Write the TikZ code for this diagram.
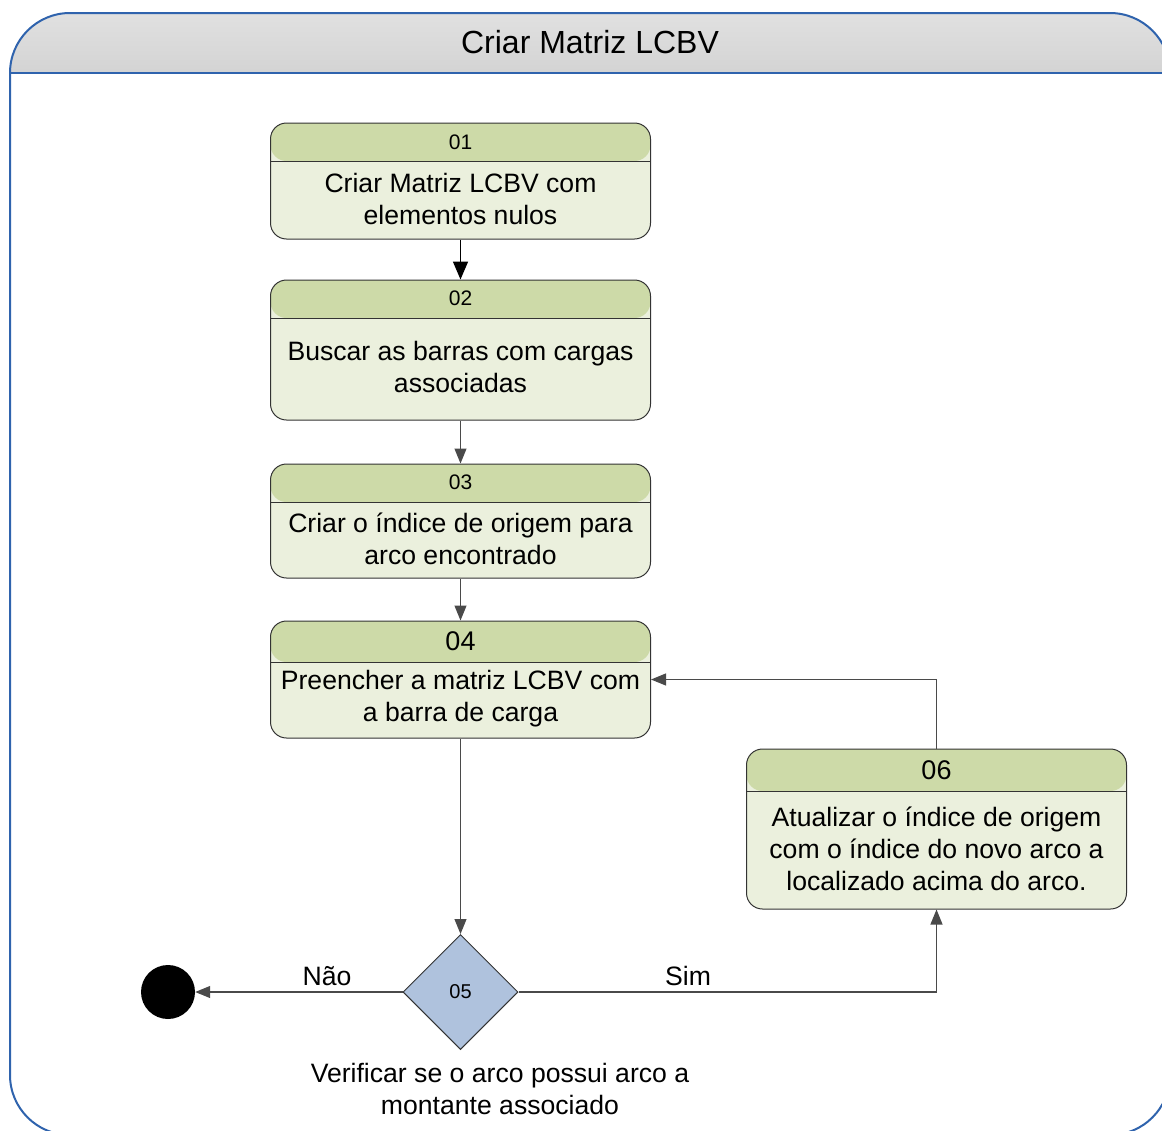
\documentclass[tikz,border=0pt]{standalone}
\usepackage{fontspec}
\setmainfont{Liberation Sans}
\usetikzlibrary{arrows.meta,shapes.geometric}

\definecolor{frameblue}{HTML}{2F63AD}
\definecolor{headgreen}{HTML}{CDDAA8}
\definecolor{bodygreen}{HTML}{EBF0DD}
\definecolor{boxedge}{HTML}{333333}
\definecolor{decfill}{HTML}{AFC2DD}
\definecolor{wire}{HTML}{4A4A4A}

\tikzset{
  framestroke/.style={draw=frameblue, line width=2pt},
  % activity box: #1 = total height, #2 = height of the numbered header band
  stepbox/.style 2 args={rectangle, rounded corners=16pt, draw=boxedge, line width=1pt,
    fill=bodygreen, minimum width=380pt, minimum height=#1, inner sep=0pt,
    path picture={
      \fill[headgreen] (path picture bounding box.north west) rectangle
        ([yshift=-#2]path picture bounding box.north east);
      \draw[boxedge, line width=1pt] ([yshift=-#2]path picture bounding box.north west) --
        ([yshift=-#2]path picture bounding box.north east);
    }},
  bodytext/.style={align=center, inner sep=0pt, font=\fontsize{26.6}{32}\selectfont},
  smallnum/.style={inner sep=0pt, font=\fontsize{21}{24}\selectfont},
  bignum/.style={inner sep=0pt, font=\fontsize{27}{30}\selectfont},
  conn/.style={draw=wire, line width=1.1pt, -{Triangle[length=15pt,width=12pt]}},
  strongconn/.style={draw=black, line width=1.6pt, -{Triangle[length=18pt,width=15pt]}},
}

\begin{document}
\begin{tikzpicture}[x=1pt, y=-1pt]
\useasboundingbox (0,0) rectangle (1162,1130);
\begin{scope}
\clip (0,0) rectangle (1162,1130);
% outer swimlane frame with shaded title band
\fill[top color=white!88!black, bottom color=white!83!black]
  (10,73) [rounded corners=60pt] -- (10,13) -- (1170,13) [sharp corners] -- (1170,73) -- cycle;
\draw[framestroke, rounded corners=60pt] (10,13) rectangle (1170,1135);
\draw[framestroke] (10,73) -- (1170,73);
\end{scope}
\node[inner sep=0pt, font=\fontsize{32}{36}\selectfont] (title) at (590,42) {Criar Matriz LCBV};

% activity boxes
\node[stepbox={116pt}{38pt}] (b1) at (460.5,181) {};
\node[smallnum] (b1n) at (460.5,142) {01};
\node[bodytext] (b1t) at (460.5,199) {Criar Matriz LCBV com\\elementos nulos};

\node[stepbox={140pt}{38pt}] (b2) at (460.5,350) {};
\node[smallnum] (b2n) at (460.5,298) {02};
\node[bodytext] (b2t) at (460.5,367) {Buscar as barras com cargas\\associadas};

\node[stepbox={114pt}{38pt}] (b3) at (460.5,521) {};
\node[smallnum] (b3n) at (460.5,482) {03};
\node[bodytext] (b3t) at (460.5,539) {Criar o índice de origem para\\arco encontrado};

\node[stepbox={117pt}{41pt}] (b4) at (460.5,679.5) {};
\node[bignum] (b4n) at (460.5,641) {04};
\node[bodytext] (b4t) at (460.5,699) {Preencher a matriz LCBV com\\a barra de carga};

\node[stepbox={160pt}{42pt}] (b6) at (936.5,829) {};
\node[bignum] (b6n) at (936.5,770) {06};
\node[bodytext] (b6t) at (936.5,849) {Atualizar o índice de origem\\com o índice do novo arco a\\localizado acima do arco.};

% decision and final state
\node[diamond, draw=boxedge, line width=1pt, fill=decfill, minimum width=115pt,
  minimum height=115pt, inner sep=0pt, font=\fontsize{20}{24}\selectfont] (d5) at (460.5,992) {05};
\node[bodytext] (d5t) at (500,1089) {Verificar se o arco possui arco a\\montante associado};
\node[circle, fill=black, minimum size=54pt, inner sep=0pt] (fim) at (168,992) {};

% flow
\draw[strongconn] (b1.south) -- (b2.north);
\draw[conn] (b2.south) -- (b3.north);
\draw[conn] (b3.south) -- (b4.north);
\draw[conn] (b4.south) -- (d5.north);
\draw[conn] (d5.west) -- (fim.east);
\draw[conn] (d5.east) -| (b6.south);
\draw[conn] (b6.north) |- (b4.east);
\node[bodytext] (lnao) at (327,976) {Não};
\node[bodytext] (lsim) at (688,976) {Sim};
\end{tikzpicture}
\end{document}
